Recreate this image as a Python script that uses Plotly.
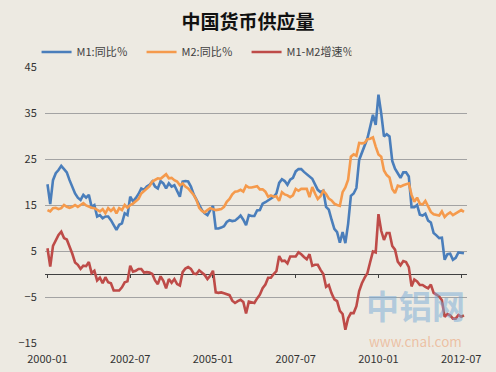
import pandas as pd
import plotly.graph_objects as go

# Categories: monthly, 2000-01 .. 2012-08
months = pd.date_range("2000-01-01", periods=152, freq="MS").strftime("%Y-%m").tolist()
tick_labels = ["2000-01", "2002-07", "2005-01", "2007-07", "2010-01", "2012-07"]

# M1 year-on-year growth (%)
m1 = [
    19.5, 15.2, 20.4, 21.9, 22.6, 23.5, 22.8, 22.1, 20.4, 19.0, 17.5, 16.6,
    16.1, 17.2, 16.6, 17.2, 14.6, 15.0, 12.5, 12.8, 12.1, 12.5, 12.5, 11.7,
    10.7, 9.6, 10.7, 11.0, 13.2, 12.8, 16.8, 15.8, 16.5, 17.4, 18.6, 18.3,
    19.0, 19.4, 20.1, 19.0, 18.6, 20.2, 19.7, 18.6, 19.7, 19.0, 19.3, 17.9,
    16.8, 20.1, 20.2, 20.1, 19.0, 17.3, 16.1, 15.2, 13.9, 13.2, 12.8, 13.9,
    14.8, 9.9, 9.9, 10.1, 10.4, 11.3, 11.7, 11.5, 11.6, 12.1, 12.7, 11.8,
    10.6, 12.8, 12.6, 12.6, 13.8, 13.9, 15.3, 15.6, 16.0, 16.3, 16.8, 17.5,
    19.8, 20.6, 20.2, 19.4, 20.5, 20.9, 22.3, 22.8, 22.8, 22.2, 21.7, 21.0,
    20.7, 19.5, 18.3, 17.8, 18.1, 14.6, 14.0, 11.8, 9.8, 9.1, 6.8, 9.1,
    6.7, 10.9, 17.0, 17.5, 18.7, 24.8, 26.4, 27.7, 29.5, 32.0, 34.6, 32.4,
    39.0, 34.9, 29.9, 30.4, 29.9, 24.6, 22.9, 21.9, 20.9, 22.1, 22.1, 21.2,
    14.5, 14.5, 15.0, 12.9, 12.7, 13.1, 11.6, 11.2, 8.9, 8.4, 7.8, 7.9,
    3.1, 4.3, 4.4, 3.1, 3.5, 4.7, 4.6, 4.5,
]

# M2 year-on-year growth (%)
m2 = [
    13.9, 13.6, 14.3, 14.4, 14.1, 14.3, 15.0, 14.6, 14.4, 14.6, 15.0, 14.6,
    15.0, 15.4, 14.9, 14.6, 14.4, 14.3, 13.9, 13.6, 14.1, 13.2, 14.3, 13.7,
    14.3, 13.2, 14.3, 13.9, 15.0, 14.4, 15.0, 15.3, 15.8, 16.3, 17.5, 18.0,
    18.6, 19.1, 20.1, 20.4, 20.8, 20.7, 21.2, 21.7, 20.8, 20.9, 20.4, 20.1,
    19.3, 19.7, 19.0, 18.6, 17.9, 17.2, 16.1, 14.4, 13.7, 13.4, 13.9, 14.3,
    14.1, 13.9, 14.0, 14.1, 14.6, 15.7, 16.3, 17.3, 17.9, 18.0, 18.3, 17.9,
    19.2, 18.8, 18.8, 18.9, 19.1, 18.4, 18.4, 17.9, 16.8, 17.1, 16.8, 16.9,
    15.9, 17.8, 17.3, 17.1, 16.7, 17.1, 18.5, 18.1, 18.5, 18.5, 18.5, 16.7,
    18.9, 17.5, 16.3, 16.9, 18.1, 17.4, 16.4, 16.0, 15.3, 15.0, 14.8, 17.8,
    18.8, 20.5, 25.5, 26.0, 25.7, 28.5, 28.4, 28.5, 29.3, 29.4, 29.7, 27.7,
    26.0, 25.5, 22.5, 21.5, 21.0, 18.5, 17.6, 19.2, 19.0, 19.3, 19.5, 19.7,
    17.2, 15.7, 16.6, 15.3, 15.1, 15.9, 14.7, 13.5, 13.0, 12.9, 12.7, 13.6,
    12.4, 13.0, 13.4, 12.8, 13.2, 13.6, 13.9, 13.5,
]

# M1-M2 growth gap (percentage points)
m1_m2 = [
    5.6, 1.6, 6.1, 7.5, 8.5, 9.2, 7.8, 7.5, 6.0, 4.4, 2.5, 2.0,
    1.1, 1.8, 1.7, 2.6, 0.2, 0.7, -1.4, -0.8, -2.0, -0.7, -1.8, -2.0,
    -3.6, -3.6, -3.6, -2.9, -1.8, -1.6, 1.8, 0.5, 0.7, 1.1, 1.1, 0.3,
    0.4, 0.3, 0.0, -1.4, -2.2, -0.5, -1.5, -3.1, -1.1, -1.9, -1.1, -2.2,
    -2.5, 0.4, 1.2, 1.5, 1.1, 0.1, 0.0, 0.8, 0.2, -0.2, -1.1, -0.4,
    0.7, -4.0, -4.1, -4.0, -4.2, -4.4, -4.6, -5.8, -6.3, -5.9, -5.6, -6.1,
    -8.6, -6.0, -6.2, -6.3, -5.3, -4.5, -3.1, -2.3, -0.8, -0.8, 0.0, 0.6,
    3.9, 2.8, 2.9, 2.3, 3.8, 3.8, 3.8, 4.7, 4.3, 3.7, 3.2, 4.3,
    1.8, 2.0, 2.0, 0.9, 0.0, -2.8, -2.4, -4.2, -5.5, -5.9, -8.0, -8.7,
    -12.1, -9.6, -8.5, -8.5, -7.0, -3.7, -2.0, -0.8, 0.2, 2.6, 4.9, 4.7,
    13.0, 9.4, 7.4, 8.9, 8.9, 6.1, 5.3, 2.7, 1.9, 2.8, 2.6, 1.5,
    -2.7, -1.2, -1.6, -2.4, -2.4, -2.8, -3.1, -2.3, -4.1, -4.5, -4.9, -5.7,
    -9.3, -8.7, -9.0, -9.7, -9.7, -8.9, -9.3, -9.0,
]

series_names = ["M1:同比％", "M2:同比％", "M1-M2增速％"]
colors = ["#4A7EBB", "#F59A4C", "#BE4B48"]

FONT = "Noto Sans CJK SC, Liberation Sans, sans-serif"
BG = "#EDEAE2"

fig = go.Figure()
for vals, name, col, xa in zip([m1, m2, m1_m2], series_names, colors, ["x", "x", "x2"]):
    fig.add_trace(go.Scatter(
        x=months, y=vals, name=name, mode="lines", xaxis=xa,
        line=dict(color=col, width=2.6),
    ))

x_range = [-0.9, 152.1]
fig.update_layout(
    width=496, height=372,
    margin=dict(l=45, r=29, t=67, b=29, autoexpand=False),
    paper_bgcolor=BG, plot_bgcolor=BG,
    font=dict(family=FONT, size=11, color="#333333"),
    title=dict(text="<b>中国货币供应量</b>", x=0.5, xanchor="center", y=1 - 22 / 372, yanchor="middle",
               font=dict(family=FONT, size=19, color="#111111")),
    showlegend=True,
    legend=dict(orientation="h", x=-0.02, xanchor="left", y=1.107, yanchor="top",
                bgcolor="rgba(0,0,0,0)", font=dict(size=11, color="#404040"),
                itemwidth=30, tracegroupgap=0, entrywidth=60, entrywidthmode="pixels"),
    xaxis=dict(type="category", range=x_range, tickmode="array", tickvals=tick_labels,
               ticktext=tick_labels, showgrid=False, zeroline=False, showline=False,
               ticks="outside", ticklen=6, tickcolor="rgba(0,0,0,0)", automargin=False,
               tickfont=dict(size=11, color="#333333")),
    xaxis2=dict(type="category", range=x_range, overlaying="x", anchor="free", position=0.25,
                side="bottom", tickmode="array", tickvals=tick_labels, showticklabels=False,
                showgrid=False, zeroline=False, showline=False, ticks="outside", automargin=False,
                ticklen=3, tickwidth=1, tickcolor="#404040"),
    yaxis=dict(range=[-15, 45], tick0=-15, dtick=10, showgrid=True, gridcolor="#A3A3A3",
               gridwidth=1, zeroline=True, zerolinecolor="#404040", zerolinewidth=1,
               showline=False, ticks="outside", ticklen=5, tickcolor="rgba(0,0,0,0)",
               automargin=False, tickfont=dict(size=11, color="#333333")),
    annotations=[
        dict(text="<b>中铝网</b>", xref="paper", yref="paper", x=0.877, y=0.138,
             xanchor="center", yanchor="middle", showarrow=False, borderpad=0,
             font=dict(family=FONT, size=33, color="rgba(120,170,215,0.5)")),
        dict(text="www.cnal.com", xref="paper", yref="paper", x=0.877, y=0.007,
             xanchor="center", yanchor="middle", showarrow=False, borderpad=0,
             font=dict(family=FONT, size=13.5, color="rgba(235,150,100,0.5)")),
    ],
)

fig.write_html("out.html", config={"displayModeBar": False},
               post_script="document.body.style.margin='0';document.body.style.padding='0';")
